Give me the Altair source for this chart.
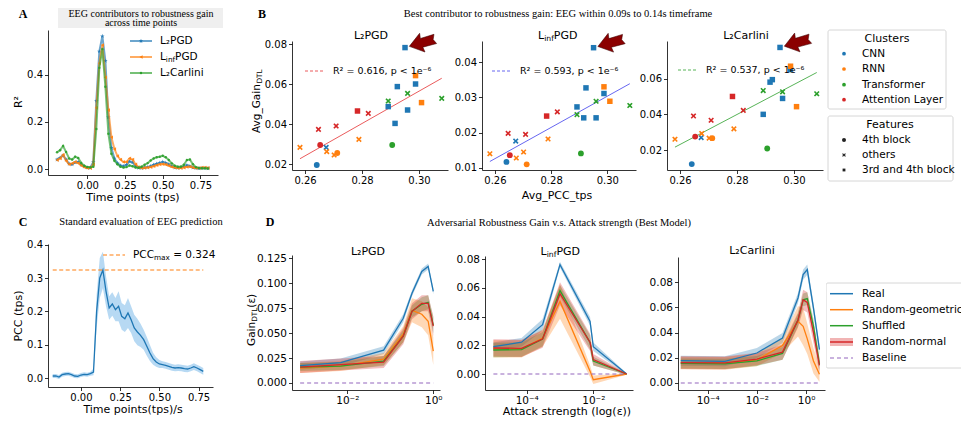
import altair as alt
import pandas as pd

SANS = "DejaVu Sans"
SERIF = "Liberation Serif"
BLUE, ORANGE, GREEN, RED, PURPLE = "#1f77b4", "#ff7f0e", "#2ca02c", "#d62728", "#9467bd"
ARROW_RED = "#8b0000"

# ---------------- Panel A data ----------------
time_a = [-0.2, -0.18, -0.16, -0.14, -0.12, -0.1, -0.08, -0.06, -0.04, -0.02, 0.0, 0.02, 0.04, 0.06,
          0.08, 0.1, 0.12, 0.14, 0.16, 0.18, 0.2, 0.22, 0.24, 0.26, 0.28, 0.3, 0.32, 0.34, 0.36, 0.38,
          0.4, 0.42, 0.44, 0.46, 0.48, 0.5, 0.52, 0.54, 0.56, 0.58, 0.6, 0.62, 0.64, 0.66, 0.68, 0.7,
          0.72, 0.74, 0.76, 0.78, 0.8]
r2_l2pgd = [0.040, 0.048, 0.058, 0.040, 0.022, 0.020, 0.028, 0.030, 0.018, 0.010,
            0.006, 0.005, 0.030, 0.290, 0.500, 0.565, 0.460, 0.220, 0.090, 0.045,
            0.025, 0.015, 0.012, 0.018, 0.032, 0.028, 0.012, 0.005, 0.004, 0.006,
            0.008, 0.012, 0.018, 0.022, 0.026, 0.030, 0.026, 0.020, 0.012, 0.006,
            0.005, 0.006, 0.010, 0.016, 0.012, 0.006, 0.004, 0.003, 0.004, 0.004, 0.003]
r2_linfpgd = [0.038, 0.045, 0.060, 0.035, 0.020, 0.024, 0.030, 0.025, 0.015, 0.008,
              0.004, 0.004, 0.020, 0.260, 0.450, 0.527, 0.390, 0.250, 0.135, 0.085,
              0.055, 0.040, 0.030, 0.030, 0.045, 0.040, 0.020, 0.008, 0.004, 0.005,
              0.006, 0.008, 0.012, 0.016, 0.020, 0.021, 0.019, 0.014, 0.009, 0.006,
              0.004, 0.004, 0.006, 0.009, 0.010, 0.006, 0.004, 0.004, 0.006, 0.006, 0.005]
r2_l2carlini = [0.071, 0.080, 0.098, 0.072, 0.045, 0.040, 0.052, 0.047, 0.026, 0.014,
                0.008, 0.007, 0.010, 0.170, 0.430, 0.510, 0.350, 0.150, 0.065, 0.035,
                0.020, 0.010, 0.006, 0.008, 0.015, 0.012, 0.006, 0.005, 0.010, 0.018,
                0.025, 0.036, 0.045, 0.050, 0.052, 0.056, 0.050, 0.038, 0.024, 0.014,
                0.010, 0.010, 0.018, 0.038, 0.040, 0.020, 0.008, 0.004, 0.003, 0.003, 0.002]

# ---------------- Panel B data ----------------
clusters = ["CNN", "RNN", "Transformer", "Attention Layer"]
features = ["4th block", "others", "3rd and 4th block"]
model_cluster = ["CNN", "CNN", "CNN", "CNN", "CNN", "CNN", "CNN", "CNN",
                 "RNN", "RNN", "RNN", "RNN", "RNN", "RNN", "RNN",
                 "Transformer", "Transformer", "Transformer", "Transformer",
                 "Attention Layer", "Attention Layer", "Attention Layer", "Attention Layer", "Attention Layer"]
model_feature = ["3rd and 4th block", "3rd and 4th block", "3rd and 4th block", "3rd and 4th block",
                 "3rd and 4th block", "3rd and 4th block", "others", "4th block",
                 "3rd and 4th block", "3rd and 4th block", "others", "others", "others", "others", "4th block",
                 "others", "others", "others", "4th block",
                 "3rd and 4th block", "others", "others", "others", "4th block"]
avg_pcc = [0.2951, 0.2924, 0.2988, 0.2892, 0.2960, 0.2916, 0.2674, 0.2641,
           0.2988, 0.3009, 0.2789, 0.2582, 0.2676, 0.2702, 0.2713,
           0.2892, 0.2960, 0.3080, 0.2906,
           0.2784, 0.2822, 0.2709, 0.2647, 0.2653]
gain_l2pgd = [0.0782, 0.0587, 0.0600, 0.0487, 0.0470, 0.0403, 0.0283, 0.0195,
              0.0642, 0.0507, 0.0323, 0.0283, 0.0262, 0.0245, 0.0255,
              0.0515, 0.0553, 0.0528, 0.0295,
              0.0465, 0.0453, 0.0390, 0.0373, 0.0295]
gain_linfpgd = [0.0441, 0.0327, 0.0311, 0.0273, 0.0242, 0.0242, 0.0176, 0.0117,
                0.0330, 0.0289, 0.0182, 0.0140, 0.0128, 0.0145, 0.0110,
                0.0251, 0.0289, 0.0277, 0.0141,
                0.0247, 0.0259, 0.0195, 0.0198, 0.0136]
gain_l2carlini = [0.0774, 0.0594, 0.0650, 0.0400, 0.0489, 0.0580, 0.0270, 0.0122,
                  0.0669, 0.0443, 0.0319, 0.0261, 0.0293, 0.0267, 0.0267,
                  0.0533, 0.0526, 0.0515, 0.0209,
                  0.0500, 0.0422, 0.0367, 0.0391, 0.0276]
r2_labels = ["R² = 0.616, p < 1e⁻⁶", "R² = 0.593, p < 1e⁻⁶", "R² = 0.537, p < 1e⁻⁶"]

# ---------------- Panel C data ----------------
time_c = [-0.18, -0.16, -0.14, -0.12, -0.1, -0.08, -0.06, -0.04, -0.02, 0.0, 0.02, 0.04, 0.06, 0.08,
          0.1, 0.12, 0.14, 0.16, 0.18, 0.2, 0.22, 0.24, 0.26, 0.28, 0.3, 0.32, 0.34, 0.36, 0.38, 0.4,
          0.42, 0.44, 0.46, 0.48, 0.5, 0.52, 0.54, 0.56, 0.58, 0.6, 0.62, 0.64, 0.66, 0.68, 0.7, 0.72,
          0.74, 0.76, 0.78]
pcc_mean = [0.006, 0.006, 0.003, 0.010, 0.012, 0.013, 0.010, 0.006, 0.005, 0.009,
            0.011, 0.010, 0.013, 0.018, 0.200, 0.300, 0.324, 0.260, 0.210, 0.222,
            0.205, 0.215, 0.185, 0.178, 0.195, 0.175, 0.150, 0.138, 0.128, 0.115,
            0.095, 0.075, 0.058, 0.048, 0.042, 0.040, 0.038, 0.035, 0.032, 0.030,
            0.031, 0.030, 0.028, 0.027, 0.030, 0.034, 0.030, 0.025, 0.020]
pcc_err = [0.006, 0.006, 0.006, 0.006, 0.006, 0.006, 0.006, 0.006, 0.006, 0.006,
           0.006, 0.006, 0.006, 0.010, 0.050, 0.060, 0.055, 0.045, 0.035, 0.035,
           0.035, 0.045, 0.040, 0.040, 0.045, 0.040, 0.040, 0.040, 0.035, 0.030,
           0.028, 0.024, 0.018, 0.014, 0.012, 0.010, 0.010, 0.010, 0.010, 0.010,
           0.010, 0.010, 0.010, 0.010, 0.010, 0.010, 0.010, 0.010, 0.010]

# ---------------- Panel D data ----------------
series_names = ["Real", "Random-geometrical", "Shuffled", "Random-normal"]
series_colors = [BLUE, ORANGE, GREEN, RED]

eps_l2pgd = [0.0008, 0.007, 0.07, 0.2, 0.32, 0.54, 0.76, 1.0]
d_l2pgd_mean = [
    [0.0175, 0.0205, 0.033, 0.065, 0.090, 0.112, 0.117, 0.092],
    [0.015, 0.017, 0.024, 0.049, 0.073, 0.069, 0.062, 0.032],
    [0.016, 0.017, 0.022, 0.047, 0.072, 0.079, 0.081, 0.058],
    [0.016, 0.0185, 0.021, 0.047, 0.072, 0.080, 0.080, 0.057],
]
d_l2pgd_err = [
    [0.004, 0.004, 0.004, 0.004, 0.003, 0.003, 0.003, 0.003],
    [0.005, 0.005, 0.006, 0.008, 0.012, 0.013, 0.014, 0.014],
    [0.004, 0.004, 0.005, 0.006, 0.006, 0.007, 0.007, 0.008],
    [0.006, 0.006, 0.006, 0.008, 0.008, 0.008, 0.008, 0.010],
]

eps_linfpgd = [1e-5, 7e-5, 3e-4, 1e-3, 8e-3, 1e-2, 1e-1]
d_linf_mean = [
    [0.0190, 0.0221, 0.0343, 0.0761, 0.0366, 0.0190, 0.0],
    [0.0174, 0.0174, 0.0250, 0.0505, 0.0020, -0.0040, 0.0],
    [0.0167, 0.0170, 0.0243, 0.0580, 0.0220, 0.0090, 0.0],
    [0.0181, 0.0178, 0.0243, 0.0559, 0.0220, 0.0100, 0.0],
]
d_linf_err = [
    [0.003, 0.003, 0.004, 0.002, 0.003, 0.003, 0.0005],
    [0.006, 0.006, 0.006, 0.012, 0.004, 0.003, 0.0005],
    [0.005, 0.005, 0.005, 0.004, 0.005, 0.003, 0.0005],
    [0.006, 0.006, 0.006, 0.008, 0.006, 0.004, 0.0005],
]

eps_l2carlini = [8e-6, 5e-4, 0.01, 0.11, 0.47, 0.76, 1.12, 2.0, 3.5]
d_carlini_mean = [
    [0.0177, 0.0172, 0.0238, 0.0357, 0.0675, 0.0860, 0.0900, 0.0595, 0.0265],
    [0.0159, 0.0156, 0.0183, 0.0298, 0.0490, 0.0450, 0.0350, 0.0175, 0.0070],
    [0.0155, 0.0152, 0.0175, 0.0235, 0.0500, 0.0660, 0.0670, 0.0450, 0.0150],
    [0.0162, 0.0160, 0.0190, 0.0245, 0.0500, 0.0660, 0.0640, 0.0400, 0.0140],
]
d_carlini_err = [
    [0.004, 0.004, 0.004, 0.004, 0.004, 0.004, 0.004, 0.004, 0.004],
    [0.005, 0.005, 0.005, 0.006, 0.012, 0.015, 0.012, 0.010, 0.006],
    [0.004, 0.004, 0.004, 0.005, 0.005, 0.005, 0.005, 0.006, 0.005],
    [0.005, 0.005, 0.005, 0.006, 0.006, 0.008, 0.008, 0.008, 0.006],
]

# ---------------- helpers ----------------
dummy = pd.DataFrame({"d": [0]})
STAR = "M0,-1L0.224,-0.309L0.951,-0.309L0.363,0.118L0.588,0.809L0,0.382L-0.588,0.809L-0.363,0.118L-0.951,-0.309L-0.224,-0.309Z"
XPATH = "M-1,-0.6L-0.6,-1L0,-0.4L0.6,-1L1,-0.6L0.4,0L1,0.6L0.6,1L0,0.4L-0.6,1L-1,0.6L-0.4,0Z"
ARROW = "M0.3,0L1.2,-0.65L1.15,-0.3L2.1,-0.32L1.95,0L2.1,0.32L1.15,0.3L1.2,0.65Z"


def T(x, y, s, size=11, font=SANS, align="center", baseline="middle", angle=0,
      weight="normal", color="black", clip=False):
    kw = dict(text=s, fontSize=size, font=font, align=align, baseline=baseline,
              fontWeight=weight, color=color)
    if angle:
        kw["angle"] = angle
    if clip:
        kw["clip"] = True
    return alt.Chart(dummy).mark_text(**kw).encode(x=alt.value(x), y=alt.value(y))


def RL(x1, x2, y, color, width=1.5, dash=None, opacity=1.0, clip=False):
    kw = dict(color=color, strokeWidth=width, opacity=opacity)
    if dash:
        kw["strokeDash"] = dash
    if clip:
        kw["clip"] = True
    return alt.Chart(dummy).mark_rule(**kw).encode(
        x=alt.value(x1), x2=alt.value(x2), y=alt.value(y))


def BOX(x1, x2, y1, y2, fill="white", stroke="#cccccc", opacity=1.0, clip=False, radius=2):
    kw = dict(fill=fill, opacity=opacity, cornerRadius=radius)
    if stroke:
        kw["stroke"] = stroke
        kw["strokeWidth"] = 0.8
    if clip:
        kw["clip"] = True
    return alt.Chart(dummy).mark_rect(**kw).encode(
        x=alt.value(x1), x2=alt.value(x2), y=alt.value(y1), y2=alt.value(y2))


def PT(x, y, shape, size, color, opacity=1.0):
    return alt.Chart(dummy).mark_point(shape=shape, size=size, filled=True, color=color,
                                       opacity=opacity).encode(x=alt.value(x), y=alt.value(y))


def linf(x0, y, size=11, sub=7.7):
    w_l = 0.557 * size
    w_inf = 1.264 * sub
    return [T(x0, y, "L", size=size, align="left"),
            T(x0 + w_l, y + 3, "inf", size=sub, align="left"),
            T(x0 + w_l + w_inf, y, "PGD", size=size, align="left")]


def AX(values, fmt=None, expr=None, offset=None, size=10):
    kw = dict(values=values, title=None, grid=False, domainColor="black", domainWidth=0.8,
              tickColor="black", tickWidth=0.8, tickSize=3.5, labelColor="black",
              labelFont=SANS, labelFontSize=size, labelPadding=2, labelFlush=False,
              labelOverlap=False)
    if fmt is not None:
        kw["format"] = fmt
    if expr is not None:
        kw["labelExpr"] = expr
    if offset is not None:
        kw["offset"] = offset
    return alt.Axis(**kw)


# ---------------- Panel A ----------------
attack_names = ["L2PGD", "LinfPGD", "L2Carlini"]
dfa = pd.DataFrame({
    "t": time_a * 3,
    "r2": r2_l2pgd + r2_linfpgd + r2_l2carlini,
    "attack": [attack_names[0]] * len(time_a) + [attack_names[1]] * len(time_a) + [attack_names[2]] * len(time_a),
})
xA = alt.X("t:Q", scale=alt.Scale(domain=[-0.26, 0.866], nice=False, zero=False),
           axis=AX([0, 0.25, 0.5, 0.75], ".2f"))
yA = alt.Y("r2:Q", scale=alt.Scale(domain=[-0.0255, 0.591], nice=False, zero=False),
           axis=AX([0, 0.2, 0.4], ".1f"))
a_styles = [(attack_names[0], BLUE, STAR, 22), (attack_names[1], ORANGE, "triangle-left", 14),
            (attack_names[2], GREEN, "circle", 6)]
layersA = []
for name, col, shp, msz in a_styles:
    base = alt.Chart(dfa).transform_filter(alt.datum.attack == name)
    layersA.append(base.mark_line(color=col, strokeWidth=2, opacity=0.65).encode(xA, yA))
    layersA.append(base.mark_point(shape=shp, filled=True, size=msz, color=col, opacity=0.9).encode(xA, yA))
# legend
for (name, col, shp, msz), yy in zip(a_styles, [11, 27, 43]):
    layersA.append(RL(82, 104, yy, col, width=2, opacity=0.65))
    layersA.append(PT(93, yy, shp, msz, col))
layersA.append(T(112, 11, "L₂PGD", size=10.5, align="left"))
layersA += linf(112, 27, size=10.5, sub=7.3)
layersA.append(T(112, 43, "L₂Carlini", size=10.5, align="left"))
# titles
layersA.append(BOX(10, 175, -22, -2, fill="#efefef", stroke=None, radius=0))
layersA.append(T(93, -16.5, "EEG contributors to robustness gain", size=10, font=SERIF))
layersA.append(T(93, -7, "across time points", size=10, font=SERIF))
layersA.append(T(-25, -16, "A", size=12, font=SERIF, weight="bold"))
layersA.append(T(-29, 72, "R²", size=11, angle=270))
layersA.append(T(85, 167.5, "Time points (tps)", size=11))
panelA = alt.layer(*layersA).properties(width=170, height=145)

# ---------------- Panel B ----------------
dfb = pd.DataFrame({"cluster": model_cluster, "feature": model_feature, "pcc": avg_pcc,
                    "g0": gain_l2pgd, "g1": gain_linfpgd, "g2": gain_l2carlini})


def scatter_panel(gcol, ydom, yticks, reg_color, r2_text, leg_x, leg_y):
    xB = alt.X("pcc:Q", scale=alt.Scale(domain=[0.2554, 0.3102], nice=False, zero=False),
               axis=AX([0.26, 0.28, 0.30], ".2f"))
    yB = alt.Y(f"{gcol}:Q", scale=alt.Scale(domain=ydom, range=[140, 11], nice=False, zero=False),
               axis=AX(yticks, ".2f"))
    pts = alt.Chart(dfb).mark_point(filled=True, opacity=1).encode(
        xB, yB,
        color=alt.Color("cluster:N", scale=alt.Scale(domain=clusters, range=[BLUE, ORANGE, GREEN, RED]), legend=None),
        shape=alt.Shape("feature:N", scale=alt.Scale(domain=features, range=["circle", XPATH, "square"]), legend=None),
        size=alt.Size("feature:N", scale=alt.Scale(domain=features, range=[34, 30, 15]), legend=None),
    )
    reg = alt.Chart(dfb).transform_regression("pcc", gcol).mark_line(
        color=reg_color, strokeWidth=0.9).encode(xB, yB)
    arrow = alt.Chart(dfb).transform_window(
        rk="rank()", sort=[alt.SortField(gcol, order="descending")]
    ).transform_filter("datum.rk == 1").mark_point(
        shape=ARROW, filled=True, size=900, color=ARROW_RED, stroke="#3d0000", strokeWidth=0.5,
        angle=344, opacity=1).encode(xB, yB)
    lay = [reg, pts, arrow,
           RL(leg_x, leg_x + 20, leg_y, reg_color, width=0.9, dash=[3, 2]),
           T(leg_x + 28, leg_y, r2_text, size=9.5, align="left")]
    return lay


layB1 = scatter_panel("g0", [0.017, 0.0815], [0.02, 0.04, 0.06, 0.08], "#e8484a", r2_labels[0], 13, 41)
layB1 += [T(79, 6, "L₂PGD", size=11),
          T(-30, -16, "B", size=12, font=SERIF, weight="bold"),
          T(266, -16, "Best contributor to robustness gain: EEG within 0.09s to 0.14s timeframe", size=10.5, font=SERIF),
          T(-35, 103, "Avg_Gain", size=10.5, angle=270, align="left"),
          T(-32, 103 - 49.5, "DTL", size=7.3, angle=270, align="left")]
panelB1 = alt.layer(*layB1).properties(width=156, height=140)

layB2 = scatter_panel("g1", [0.0094, 0.046], [0.01, 0.02, 0.03, 0.04], "#5555ee", r2_labels[1], 10, 41)
layB2 += linf(56, 6)
layB2 += [T(75, 166, "Avg_PCC_tps", size=11)]
panelB2 = alt.layer(*layB2).properties(width=154, height=140)

layB3 = scatter_panel("g2", [0.0089, 0.081], [0.02, 0.04, 0.06], "#44aa44", r2_labels[2], 11, 40)
layB3 += [T(79, 6, "L₂Carlini", size=11)]
panelB3 = alt.layer(*layB3).properties(width=156, height=140)

# legend cell for B
legB = [BOX(2, 120, 0, 79), T(61, 9, "Clusters", size=11)]
for name, col, yy in zip(clusters, [BLUE, ORANGE, GREEN, RED], [23.7, 39, 54.7, 69.7]):
    legB.append(PT(18, yy, "circle", 14, col))
    legB.append(T(36, yy, name, size=10.5, align="left"))
legB += [BOX(2, 127, 86, 151), T(64, 95, "Features", size=11)]
for name, shp, sz, yy in zip(features, ["circle", XPATH, "square"], [16, 14, 8], [110, 125, 140]):
    legB.append(PT(18, yy, shp, sz, "#222222"))
    legB.append(T(36, yy, name, size=10.5, align="left"))
panelLegB = alt.layer(*legB).properties(width=135, height=140)

# ---------------- Panel C ----------------
dfc = pd.DataFrame({"t": time_c, "pcc": pcc_mean, "err": pcc_err})
xC = alt.X("t:Q", scale=alt.Scale(domain=[-0.21, 0.842], nice=False, zero=False),
           axis=AX([0, 0.25, 0.5, 0.75], ".2f"))
ysC = alt.Scale(domain=[-0.027, 0.402], nice=False, zero=False)
axC = AX([0, 0.1, 0.2, 0.3, 0.4], ".1f")
bandC = alt.Chart(dfc).transform_calculate(
    lo="datum.pcc - datum.err", hi="datum.pcc + datum.err"
).mark_area(color="#4a9fe0", opacity=0.4).encode(xC, alt.Y("lo:Q", scale=ysC, axis=axC), y2="hi:Q")
lineC = alt.Chart(dfc).mark_line(color=BLUE, strokeWidth=1.3).encode(xC, alt.Y("pcc:Q", scale=ysC, axis=axC))
maxC = alt.Chart(dfc).transform_joinaggregate(pmax="max(pcc)").mark_line(
    color=ORANGE, strokeDash=[4, 2.5], strokeWidth=1.2).encode(xC, alt.Y("pmax:Q", scale=ysC, axis=axC))
layC = [bandC, lineC, maxC,
        RL(55, 77, 11, ORANGE, width=1.2, dash=[4, 2.5]),
        T(85, 11, "PCC", size=10.5, align="left"),
        T(106, 14, "max", size=7.3, align="left"),
        T(125.2, 11, "= 0.324", size=10.5, align="left"),
        T(-25, -22, "C", size=12, font=SERIF, weight="bold"),
        T(93, -22, "Standard evaluation of EEG prediction", size=10.5, font=SERIF),
        T(-29, 72, "PCC (tps)", size=11, angle=270),
        T(85, 166, "Time points(tps)/s", size=11)]
panelC = alt.layer(*layC).properties(width=165, height=143)


# ---------------- Panel D ----------------
def d_panel(eps, means, errs, xdom, xrange_, xticks, xexpr, ydom, yrange_, yticks, yfmt, yoffset):
    rows = []
    for name, m, e in zip(series_names, means, errs):
        for xv, mv, ev in zip(eps, m, e):
            rows.append({"eps": xv, "gain": mv, "err": ev, "series": name})
    df = pd.DataFrame(rows)
    xs = alt.Scale(type="log", domain=xdom, range=xrange_, nice=False)
    ys = alt.Scale(domain=ydom, range=yrange_, nice=False, zero=False)
    xD = alt.X("eps:Q", scale=xs, axis=AX(xticks, expr=xexpr, size=10.5))
    yax = AX(yticks, yfmt, offset=yoffset, size=10.5)
    color = alt.Color("series:N", scale=alt.Scale(domain=series_names, range=series_colors), legend=None)
    band = alt.Chart(df).transform_calculate(
        lo="datum.gain - datum.err", hi="datum.gain + datum.err"
    ).mark_area(opacity=0.3).encode(xD, alt.Y("lo:Q", scale=ys, axis=yax), y2="hi:Q", color=color)
    lines = alt.Chart(df).mark_line(strokeWidth=1.3).encode(
        xD, alt.Y("gain:Q", scale=ys, axis=yax), color=color)
    base = alt.Chart(df).transform_filter(alt.datum.series == "Real").mark_line(
        color=PURPLE, strokeDash=[4, 3], strokeWidth=1.2).encode(xD, alt.YDatum(0, scale=ys, axis=yax))
    return [band, lines, base]


layD1 = d_panel(eps_l2pgd, d_l2pgd_mean, d_l2pgd_err, [5.18e-4, 1.432], [0, 148], [0.01, 1],
                "datum.value < 0.1 ? '10⁻²' : '10⁰'", [-0.00703, 0.1285], [146, 11],
                [0, 0.025, 0.05, 0.075, 0.1, 0.125], ".3f", None)
layD1 += [T(76, 8, "L₂PGD", size=11),
          T(-22, -22, "D", size=12, font=SERIF, weight="bold"),
          T(267, -21, "Adversarial Robustness Gain v.s. Attack strength (Best Model)", size=10.5, font=SERIF),
          T(-40, 102, "Gain", size=10.5, angle=270, align="left"),
          T(-37, 102 - 24.2, "DTL", size=7.3, angle=270, align="left"),
          T(-40, 102 - 24.2 - 14.1, "(ε)", size=10.5, angle=270, align="left")]
panelD1 = alt.layer(*layD1).properties(width=148, height=146)

layD2 = d_panel(eps_linfpgd, d_linf_mean, d_linf_err, [5.6e-6, 0.1556], [3, 151], [1e-4, 1e-2],
                "datum.value < 0.001 ? '10⁻⁴' : '10⁻²'", [-0.01113, 0.0821], [146, 12],
                [0, 0.02, 0.04, 0.06, 0.08], ".2f", -3)
layD2 += linf(58.6, 8)
layD2 += [T(85, 168, "Attack strength (log(ε))", size=11)]
panelD2 = alt.layer(*layD2).properties(width=154, height=146)

layD3 = d_panel(eps_l2carlini, d_carlini_mean, d_carlini_err, [6.17e-6, 5.89], [11, 158], [1e-4, 1e-2, 1],
                "datum.value < 0.001 ? '10⁻⁴' : datum.value < 0.1 ? '10⁻²' : '10⁰'",
                [-0.00556, 0.100], [146, 13], [0, 0.02, 0.04, 0.06, 0.08], ".2f", -11)
layD3 += [T(85, 7, "L₂Carlini", size=11)]
panelD3 = alt.layer(*layD3).properties(width=158, height=146)

# legend cell for D (clipped at the right edge like the reference)
legD = [BOX(0, 160, 39, 124, clip=True)]
leg_rows = [49.7, 65.7, 81.7, 98, 114]
for name, col, yy in zip(series_names, series_colors, leg_rows):
    if name == "Random-normal":
        legD.append(BOX(4, 27, yy - 4, yy + 4, fill=col, stroke=None, opacity=0.35, clip=True, radius=0))
    legD.append(RL(4, 27, yy, col, width=1.5, clip=True))
    legD.append(T(36, yy, name, size=10.5, align="left", clip=True))
legD.append(RL(4, 27, leg_rows[4], PURPLE, width=1.2, dash=[4, 3], clip=True))
legD.append(T(36, leg_rows[4], "Baseline", size=10.5, align="left", clip=True))
panelLegD = alt.layer(*legD).properties(width=135, height=146)


# ---------------- layout ----------------
def spacer(w):
    return alt.Chart(dummy).mark_point(opacity=0).encode(
        x=alt.value(0), y=alt.value(0)).properties(width=w, height=1)


cells = [panelA, spacer(74), panelB1, spacer(34), panelB2, spacer(31), panelB3, spacer(1), panelLegB,
         panelC, spacer(74), panelD1, spacer(34), panelD2, spacer(31), panelD3, spacer(1), panelLegD]

chart = alt.concat(*cells, columns=9, spacing={"row": 69, "column": 0}, bounds="flush", align="each").properties(
    padding={"left": 5, "top": 0, "right": 0, "bottom": 0}
).configure(background="white", font=SANS).configure_view(stroke=None)

chart.save("out.html", embed_options={"renderer": "svg", "actions": False})
